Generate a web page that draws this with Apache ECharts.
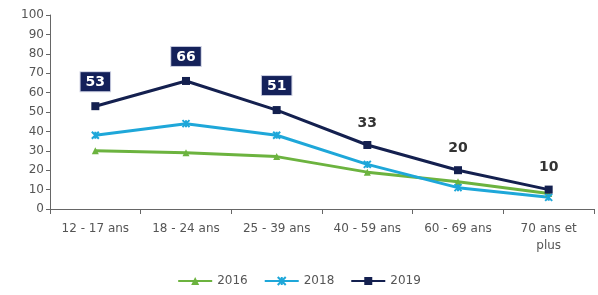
<!DOCTYPE html>
<html>
<head>
<meta charset="utf-8">
<script src="https://cdn.jsdelivr.net/npm/echarts@6/dist/echarts.min.js"></script>
<style>body{margin:0;background:#fff}</style>
</head>
<body>
<div id="chart" style="width:598px; height:295px;"></div>
<script>
var categories = ['12 - 17 ans', '18 - 24 ans', '25 - 39 ans', '40 - 59 ans', '60 - 69 ans', '70 ans et\nplus'];
var data2016 = [30, 29, 27, 19, 14, 8];
var data2018 = [38, 44, 38, 23, 11, 6];
var data2019 = [53, 66, 51, 33, 20, 10];
var boxedLabels = [true, true, true, false, false, false];

var mychart = echarts.init(document.getElementById('chart'));

var label2019 = data2019.map(function (v, i) {
    var lab = {
        show: true, position: 'top', distance: 11,
        fontFamily: 'DejaVu Sans', fontWeight: 'bold', fontSize: 14,
        color: '#333333'
    };
    if (boxedLabels[i]) {
        lab.color = '#ffffff';
        lab.backgroundColor = '#14215a';
        lab.padding = [3, 5, 2, 5];
        lab.borderColor = '#c9cde0';
        lab.borderWidth = 1;
    }
    return { value: v, label: lab };
});

mychart.setOption({
    animation: false,
    textStyle: { fontFamily: 'DejaVu Sans' },
    grid: { left: 50, right: 4, top: 15, bottom: 86 },
    legend: {
        bottom: 3,
        left: 'center',
        itemWidth: 34,
        itemHeight: 10,
        itemGap: 16,
        textStyle: { fontSize: 12, color: '#555555' },
        data: ['2016', '2018', '2019']
    },
    xAxis: {
        type: 'category',
        data: categories,
        boundaryGap: true,
        axisLine: { lineStyle: { color: '#666666' } },
        axisTick: { show: true, lineStyle: { color: '#666666' } },
        axisLabel: { color: '#555555', fontSize: 12, interval: 0, margin: 11, lineHeight: 17 }
    },
    yAxis: {
        type: 'value',
        min: 0, max: 100, interval: 10,
        splitLine: { show: false },
        axisLine: { show: true, lineStyle: { color: '#666666' } },
        axisTick: { show: true, length: 4, lineStyle: { color: '#666666' } },
        axisLabel: { color: '#555555', fontSize: 12, margin: 6 }
    },
    series: [
        {
            name: '2016', type: 'line', data: data2016,
            symbol: 'triangle', symbolSize: 7,
            lineStyle: { width: 3, color: '#6cb33f' },
            itemStyle: { color: '#6cb33f' }
        },
        {
            name: '2018', type: 'line', data: data2018,
            symbol: 'path://M0,0 L10,10 M10,0 L0,10 M5,0 L5,10', symbolSize: 7,
            lineStyle: { width: 3, color: '#1ea7d9' },
            itemStyle: { color: '#1ea7d9', borderColor: '#1ea7d9', borderWidth: 2 }
        },
        {
            name: '2019', type: 'line', data: label2019,
            symbol: 'rect', symbolSize: 8,
            lineStyle: { width: 3, color: '#14204f' },
            itemStyle: { color: '#14204f' }
        }
    ]
});
</script>
</body>
</html>
